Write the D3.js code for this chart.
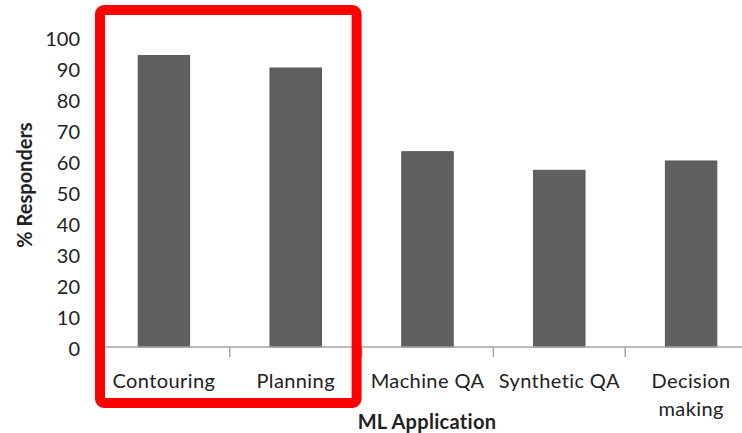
<!DOCTYPE html>
<html>
<head>
<meta charset="utf-8">
<script src="https://cdn.jsdelivr.net/npm/d3@7"></script>
<style>
  html, body { margin: 0; padding: 0; background: #fff; }
  svg { display: block; }
  text { font-family: Lato, "Open Sans", sans-serif; fill: #222; }
</style>
</head>
<body>
<svg id="chart" width="742" height="433"></svg>
<script>
// Share of responders per machine-learning application
const categories = ["Contouring", "Planning", "Machine QA", "Synthetic QA", "Decision making"];
const labelLines = [["Contouring"], ["Planning"], ["Machine QA"], ["Synthetic QA"], ["Decision", "making"]];
const values = [94, 90, 63, 57, 60];
const yTicks = [0, 10, 20, 30, 40, 50, 60, 70, 80, 90, 100];
const highlighted = ["Contouring", "Planning"];

const svg = d3.select("#chart");

const x = d3.scaleBand()
  .domain(categories)
  .range([98, 757])
  .paddingInner(0.61)
  .paddingOuter(0.305);

const y = d3.scaleLinear()
  .domain([0, 100])
  .range([347, 37]);

// value axis labels (no line)
const yAxis = svg.append("g")
  .attr("transform", "translate(98,0)")
  .call(d3.axisLeft(y).tickValues(yTicks).tickSize(0).tickPadding(18));
yAxis.select(".domain").remove();
yAxis.selectAll("text")
  .attr("font-size", 20)
  .attr("dy", "0.4em")
  .style("font-family", "Lato, 'Open Sans', sans-serif")
  .attr("fill", "#333");

// bars
svg.append("g")
  .selectAll("rect")
  .data(values)
  .join("rect")
  .attr("x", (d, i) => x(categories[i]))
  .attr("y", d => y(d))
  .attr("width", x.bandwidth())
  .attr("height", d => y(0) - y(d))
  .attr("fill", "#606060")
  .attr("stroke", "#555")
  .attr("stroke-width", 1);

// category axis
const step = x.step();
const xAxis = svg.append("g");
xAxis.append("line")
  .attr("x1", 98).attr("x2", 757)
  .attr("y1", y(0)).attr("y2", y(0))
  .attr("stroke", "#a6a6a6").attr("stroke-width", 1.5);
xAxis.selectAll("line.tick")
  .data(d3.range(0, categories.length + 1))
  .join("line")
  .attr("class", "tick")
  .attr("x1", i => 98 + i * step).attr("x2", i => 98 + i * step)
  .attr("y1", y(0)).attr("y2", y(0) + 10)
  .attr("stroke", "#a6a6a6").attr("stroke-width", 1.5);

const labels = xAxis.selectAll("text.cat")
  .data(categories)
  .join("text")
  .attr("class", "cat")
  .attr("x", d => x(d) + x.bandwidth() / 2)
  .attr("y", 388)
  .attr("text-anchor", "middle")
  .attr("font-size", 20)
  .attr("letter-spacing", 0.4)
  .attr("fill", "#333");
labels.each(function(d, i) {
  d3.select(this).selectAll("tspan")
    .data(labelLines[i])
    .join("tspan")
    .attr("x", x(d) + x.bandwidth() / 2)
    .attr("dy", (t, j) => j === 0 ? 0 : 28)
    .text(t => t);
});

// axis titles
svg.append("text")
  .attr("x", 427).attr("y", 429)
  .attr("text-anchor", "middle")
  .attr("font-size", 20).attr("font-weight", "bold")
  .attr("letter-spacing", 0.3)
  .attr("fill", "#222")
  .text("ML Application");

svg.append("text")
  .attr("transform", "translate(32,185) rotate(-90)")
  .attr("text-anchor", "middle")
  .attr("font-size", 20).attr("font-weight", "bold")
  .attr("fill", "#222")
  .text("% Responders");

// red frame around the highlighted categories
const hx0 = x(highlighted[0]) - (step - x.bandwidth()) / 2;
const hx1 = x(highlighted[highlighted.length - 1]) + x.bandwidth() + (step - x.bandwidth()) / 2;
svg.append("rect")
  .attr("x", hx0 + 2)
  .attr("y", 10)
  .attr("width", hx1 - hx0 - 7)
  .attr("height", 393)
  .attr("rx", 4)
  .attr("fill", "none")
  .attr("stroke", "#ff0000")
  .attr("stroke-width", 10);
</script>
</body>
</html>
